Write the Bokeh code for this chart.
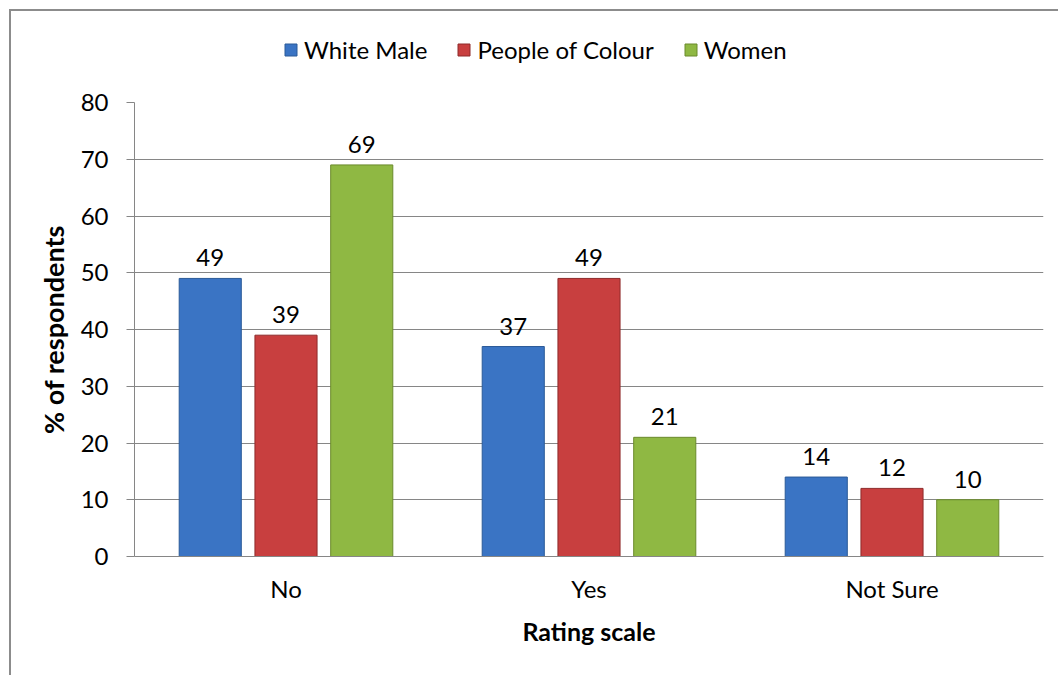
from bokeh.plotting import figure
from bokeh.layouts import column
from bokeh.models import (ColumnDataSource, FactorRange, Legend, LegendItem,
                          FixedTicker, Range1d)
from bokeh.transform import dodge
from bokeh.core.properties import value
from bokeh.embed import file_html
from bokeh.resources import INLINE

categories = ["No", "Yes", "Not Sure"]
white_male = [49, 37, 14]
people_of_colour = [39, 49, 12]
women = [69, 21, 10]
y_ticks = [0, 10, 20, 30, 40, 50, 60, 70, 80]
series_names = ["White Male", "People of Colour", "Women"]

FONT = "Lato"
GRAY = "#868686"
BORDER = "#8c8c8c"
series_cols = ["wm", "poc", "w"]
offsets = [-0.25, 0.0, 0.25]
fills = ["#3a74c4", "#c83f3f", "#8fb843"]
lines = ["#2b5a98", "#8e2b2b", "#6a8a2c"]

source = ColumnDataSource(dict(
    cat=categories,
    wm=white_male, poc=people_of_colour, w=women,
    wm_lbl=[str(v) for v in white_male],
    poc_lbl=[str(v) for v in people_of_colour],
    w_lbl=[str(v) for v in women],
))

# ---- legend strip on top (its frame is aligned with the chart's frame) ----
top = figure(width=1058, height=70, output_backend="svg", toolbar_location=None,
             x_range=Range1d(0, 1), y_range=Range1d(0, 1),
             x_axis_type=None, y_axis_type=None,
             min_border_left=134, min_border_right=15, min_border_top=0,
             min_border_bottom=0)
top.outline_line_color = None
top.grid.grid_line_color = None
top.border_fill_alpha = 0
top.background_fill_alpha = 0
items = []
for name, fill, line in zip(series_names, fills, lines):
    # swatch-only renderer: no drawable bar (NaN height), used for the legend
    r = top.vbar(x=[0.5], top=[float("nan")], width=0.1,
                 fill_color=fill, line_color=line)
    items.append(LegendItem(label=name, renderers=[r]))
legend = Legend(items=items, orientation="horizontal", location=(149, 6),
                glyph_width=15, glyph_height=15, label_standoff=6, spacing=29,
                padding=0, margin=0, border_line_color=None,
                background_fill_alpha=0, label_text_font=FONT,
                label_text_font_size="24px", label_text_color="black",
                label_height=15)
top.add_layout(legend, "center")

# ---- main chart ----
p = figure(x_range=FactorRange(*categories), y_range=Range1d(0, 80),
           width=1058, height=605, output_backend="svg", toolbar_location=None,
           min_border_left=134, min_border_right=15, min_border_top=32,
           min_border_bottom=119)
p.outline_line_color = None
p.border_fill_alpha = 0

for col, off, fill, line in zip(series_cols, offsets, fills, lines):
    p.vbar(x=dodge("cat", off, range=p.x_range), top=col, width=0.205,
           source=source, fill_color=fill, line_color=line, line_width=1)
    p.text(x=dodge("cat", off, range=p.x_range), y=col, text=col + "_lbl",
           source=source, text_align="center", text_baseline="bottom",
           y_offset=-12, text_font=value(FONT), text_font_size="24px",
           text_color="black")

p.yaxis.ticker = FixedTicker(ticks=y_ticks)
p.yaxis.axis_label = "% of respondents"
p.xaxis.axis_label = "Rating scale"
for ax in (p.xaxis, p.yaxis):
    ax.axis_line_color = GRAY
    ax.major_tick_line_color = GRAY
    ax.minor_tick_line_color = None
    ax.major_label_text_font = FONT
    ax.major_label_text_font_size = "24px"
    ax.major_label_text_color = "black"
    ax.axis_label_text_font = FONT
    ax.axis_label_text_font_style = "bold"
    ax.axis_label_text_color = "black"
p.yaxis.axis_label_text_font_size = "27px"
p.xaxis.axis_label_text_font_size = "25px"
p.yaxis.major_tick_out = 8
p.yaxis.major_tick_in = 0
p.yaxis.major_label_standoff = 18
p.yaxis.axis_label_standoff = 8
p.xaxis.major_tick_line_color = None
p.xaxis.major_label_standoff = 11
p.xaxis.axis_label_standoff = 10
p.xgrid.grid_line_color = None
p.ygrid.grid_line_color = GRAY

page = column(top, p, spacing=0)
page.styles = {
    "background-image": f"linear-gradient({BORDER},{BORDER}), linear-gradient({BORDER},{BORDER})",
    "background-size": "2px 100%, 100% 2px",
    "background-position": "9px 9px, 9px 9px",
    "background-repeat": "no-repeat",
}

open("out.html", "w").write(file_html(page, INLINE))
